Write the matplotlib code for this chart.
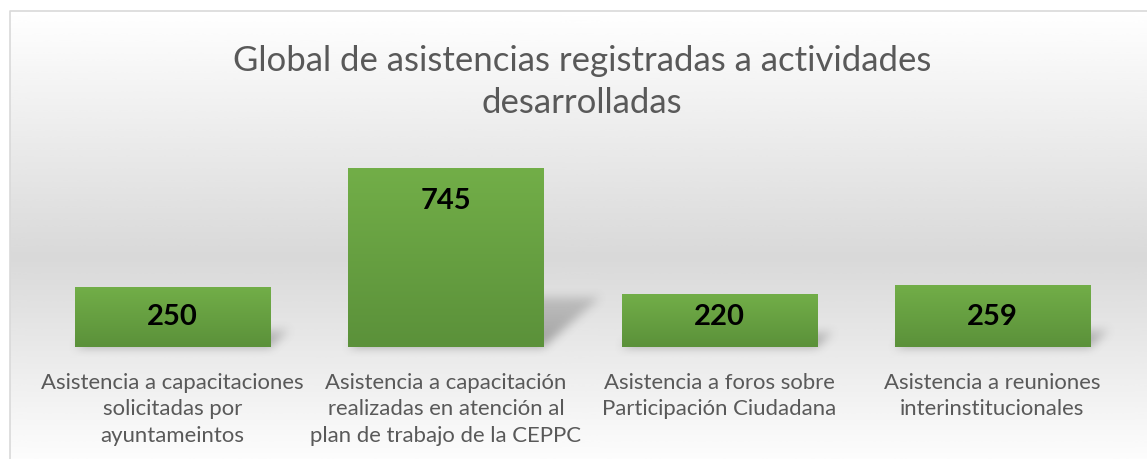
import numpy as np
import matplotlib.pyplot as plt
from matplotlib.colors import LinearSegmentedColormap

categories = [
    "Asistencia a capacitaciones\nsolicitadas por\nayuntameintos",
    "Asistencia a capacitación\nrealizadas en atención al\nplan de trabajo de la CEPPC",
    "Asistencia a foros sobre\nParticipación Ciudadana",
    "Asistencia a reuniones\ninterinstitucionales",
]
values = [250, 745, 220, 259]
title = "Global de asistencias registradas a actividades\ndesarrolladas"

W, H = 1147, 460
fig = plt.figure(figsize=(W / 100, H / 100), dpi=100)
fig.patch.set_facecolor("white")

# background of the chart area: white -> gray -> white
bg = fig.add_axes([0, 0, 1, 1], zorder=-10)
bg.set_xlim(0, W)
bg.set_ylim(H, 0)
bg.axis("off")
ys = np.linspace(0, 1, 256)
stops = [(0.0, 1.0), (0.55, 0.85), (1.0, 0.99)]
shade = np.interp(ys, [s[0] for s in stops], [s[1] for s in stops])
grad = np.repeat(shade[:, None], 2, axis=1)
bg.imshow(grad, cmap="gray", vmin=0, vmax=1, aspect="auto",
          extent=[10, W + 10, H, 12], interpolation="bicubic")
bg.plot([10, 10, W + 10], [H, 12, 12], color="#d9d9d9", lw=1.2)

ax = fig.add_axes([36 / W, 112 / H, (1129 - 36) / W, 198 / H])
ax.patch.set_alpha(0)
ymax = 745 * 198 / 179
ax.set_xlim(-0.5, len(values) - 0.5)
ax.set_ylim(0, ymax)
for s in ax.spines.values():
    s.set_visible(False)
ax.set_yticks([])

x = np.arange(len(values))
width = 0.714
bars = ax.bar(x, values, width=width, color="#68a342", zorder=3)

green = LinearSegmentedColormap.from_list("g", ["#5b913a", "#72ae48"])
gimg = np.linspace(0, 1, 100)[:, None]


def box_blur(a, r):
    for axis in (0, 1):
        c = np.cumsum(np.pad(a, [(r + 1, r) if i == axis else (0, 0) for i in (0, 1)]), axis=axis)
        if axis == 0:
            a = (c[2 * r + 1:] - c[:-2 * r - 1]) / (2 * r + 1)
        else:
            a = (c[:, 2 * r + 1:] - c[:, :-2 * r - 1]) / (2 * r + 1)
    return a


# soft perspective shadows, drawn in pixel space behind the bars
yy, xx = np.mgrid[0:H, 0:W] + 0.5
mask = np.zeros((H, W))
for b in bars:
    x0, y0 = b.get_x(), b.get_y()
    w, h = b.get_width(), b.get_height()
    im = ax.imshow(gimg, cmap=green, aspect="auto", origin="lower",
                   extent=[x0, x0 + w, y0, y0 + h], zorder=4)
    im.set_clip_path(b)
    (L, B), (R, T) = ax.transData.transform([(x0, y0), (x0 + w, y0 + h)])
    B, T = H - B, H - T
    hp = B - T
    sh, dx = 0.28 * hp, 0.32 * hp
    t = (B - yy) / sh
    inside = (t >= 0) & (t <= 1) & (xx >= L + dx * t) & (xx <= R + dx * t)
    mask = np.maximum(mask, inside * (1 - 0.5 * t))
mask = box_blur(box_blur(mask, 5), 5)
shadow = np.zeros((H, W, 4))
shadow[..., :3] = 0.35
shadow[..., 3] = np.clip(mask, 0, 1) * 0.5
bg.imshow(shadow, extent=[0, W, H, 0], aspect="auto", interpolation="bilinear")

# value labels: inside end, but never lower than the same height
px_per_unit = 179 / 745
for xi, v in zip(x, values):
    ly = max(v - 32 / px_per_unit, 31 / px_per_unit)
    ax.text(xi, ly, str(v), ha="center", va="center", fontsize=21,
            fontweight="bold", family="Lato", color="black", zorder=6)

ax.set_xticks(x)
ax.set_xticklabels(categories, fontsize=15.9, family="Lato", color="#595959",
                   linespacing=1.4)
ax.tick_params(axis="x", length=0, pad=18)

fig.text(582 / W, 1 - 82 / H, title, ha="center", va="center", fontsize=25,
         family="Lato", color="#595959", linespacing=1.38)

fig.savefig("out.png", dpi=100)
